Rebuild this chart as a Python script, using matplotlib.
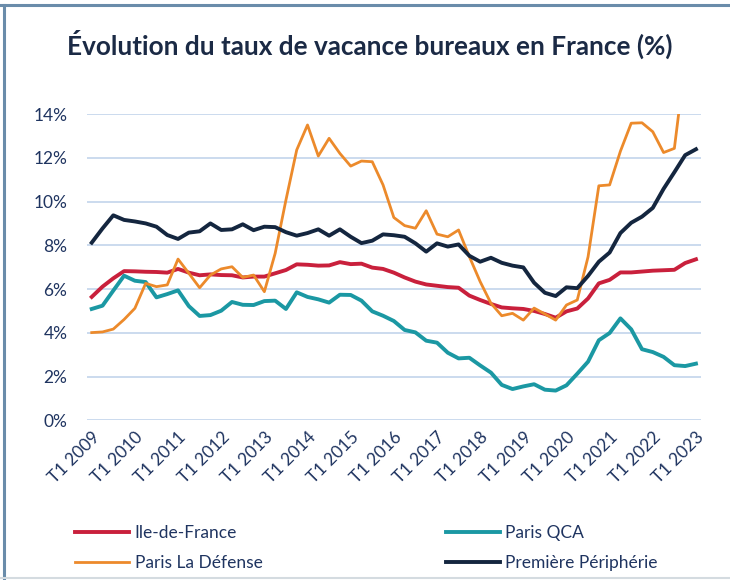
import matplotlib
matplotlib.use("Agg")
import matplotlib.pyplot as plt
from matplotlib.lines import Line2D
from matplotlib.ticker import PercentFormatter

plt.rcParams['font.family'] = ['Lato', 'DejaVu Sans']

# trimestres T1 2009 -> T1 2023
trimestres = [f"T{q} {a}" for a in range(2009, 2024) for q in range(1, 5)][:57]
ticks_labels = [f"T1 {a}" for a in range(2009, 2024)]

idf = [5.64, 6.11, 6.49, 6.82, 6.81, 6.79, 6.78, 6.75, 6.92, 6.75,
       6.63, 6.67, 6.64, 6.63, 6.53, 6.57, 6.57, 6.72, 6.87, 7.13,
       7.11, 7.07, 7.08, 7.23, 7.14, 7.16, 6.98, 6.92, 6.75, 6.53,
       6.34, 6.21, 6.15, 6.09, 6.06, 5.70, 5.50, 5.32, 5.16, 5.12,
       5.09, 5.00, 4.86, 4.69, 4.98, 5.11, 5.57, 6.26, 6.42, 6.76,
       6.76, 6.80, 6.84, 6.86, 6.88, 7.19, 7.36]

qca = [5.09, 5.24, 5.93, 6.61, 6.38, 6.32, 5.62, 5.77, 5.94, 5.22,
       4.77, 4.81, 5.01, 5.41, 5.28, 5.27, 5.45, 5.47, 5.09, 5.85,
       5.64, 5.53, 5.38, 5.74, 5.73, 5.47, 4.98, 4.78, 4.54, 4.13,
       4.02, 3.64, 3.55, 3.09, 2.83, 2.86, 2.51, 2.18, 1.62, 1.43,
       1.55, 1.65, 1.40, 1.36, 1.60, 2.13, 2.68, 3.66, 3.99, 4.66,
       4.16, 3.25, 3.12, 2.90, 2.52, 2.48, 2.59]

defense = [4.01, 4.04, 4.17, 4.61, 5.12, 6.26, 6.11, 6.19, 7.37, 6.72,
           6.06, 6.64, 6.92, 7.02, 6.53, 6.64, 5.88, 7.63, 10.07, 12.36,
           13.50, 12.08, 12.89, 12.20, 11.62, 11.85, 11.82, 10.76, 9.27, 8.90,
           8.78, 9.58, 8.51, 8.39, 8.70, 7.48, 6.34, 5.35, 4.78, 4.89,
           4.58, 5.13, 4.86, 4.58, 5.27, 5.50, 7.47, 10.72, 10.76, 12.30,
           13.58, 13.60, 13.19, 12.24, 12.43, 16.40, 16.80]

peripherie = [8.12, 8.77, 9.37, 9.16, 9.09, 9.00, 8.85, 8.47, 8.29, 8.58,
              8.64, 9.00, 8.70, 8.73, 8.96, 8.69, 8.85, 8.83, 8.60, 8.44,
              8.56, 8.73, 8.44, 8.73, 8.39, 8.10, 8.21, 8.50, 8.46, 8.39,
              8.09, 7.71, 8.09, 7.94, 8.04, 7.52, 7.25, 7.43, 7.20, 7.07,
              6.99, 6.29, 5.83, 5.68, 6.08, 6.04, 6.60, 7.25, 7.67, 8.56,
              9.03, 9.31, 9.71, 10.58, 11.34, 12.12, 12.39]

x = list(range(len(trimestres)))

fig = plt.figure(figsize=(7.3, 5.8), dpi=100)
ax = fig.add_axes([0.119, 0.2753, 0.841, 0.5281])

l1, = ax.plot(x, idf, color='#c9203c', lw=2.8, solid_joinstyle='round')
l2, = ax.plot(x, qca, color='#1b98a3', lw=2.8, solid_joinstyle='round')
l3, = ax.plot(x, defense, color='#ec8a2b', lw=2.0, solid_joinstyle='round')
l4, = ax.plot(x, peripherie, color='#14263f', lw=2.8, solid_joinstyle='round')

ax.set_ylim(0, 14)
ax.set_xlim(-0.45, 56.45)
ax.set_yticks(range(0, 15, 2))
ax.yaxis.set_major_formatter(PercentFormatter(decimals=0))
ax.set_xticks(range(0, 57, 4))
ax.set_xticklabels(ticks_labels, rotation=45, ha='right', rotation_mode='anchor')
ax.tick_params(axis='both', length=0, labelsize=12.5, labelcolor='#1f3460')
ax.tick_params(axis='y', pad=14)
ax.tick_params(axis='x', pad=6)
ax.grid(axis='y', color='#cbdaee', lw=1.4)
ax.set_axisbelow(True)
for s in ax.spines.values():
    s.set_visible(False)

fig.text(0.506, 0.924, "Évolution du taux de vacance bureaux en France (%)",
         ha='center', va='center', fontsize=18.8, fontweight='bold', color='#1b2a45')

fig.legend([l1, l3, l2, l4],
           ["Ile-de-France", "Paris La Défense", "Paris QCA", "Première Périphérie"],
           ncol=2, loc='upper left', bbox_to_anchor=(0.082, 0.121),
           frameon=False, fontsize=12.5, handlelength=3.1, handletextpad=0.3,
           columnspacing=10.6, labelspacing=0.8, labelcolor='#1f3460')

# cadre
fig.add_artist(Line2D([0, 1], [0.992, 0.992], color='#6a8caa', lw=2.2))
fig.add_artist(Line2D([0.006, 0.006], [0, 0.992], color='#6a8caa', lw=2.2))
fig.add_artist(Line2D([0, 1], [0.004, 0.004], color='#d4dbe0', lw=1.5))

fig.savefig("out.png", dpi=100)
